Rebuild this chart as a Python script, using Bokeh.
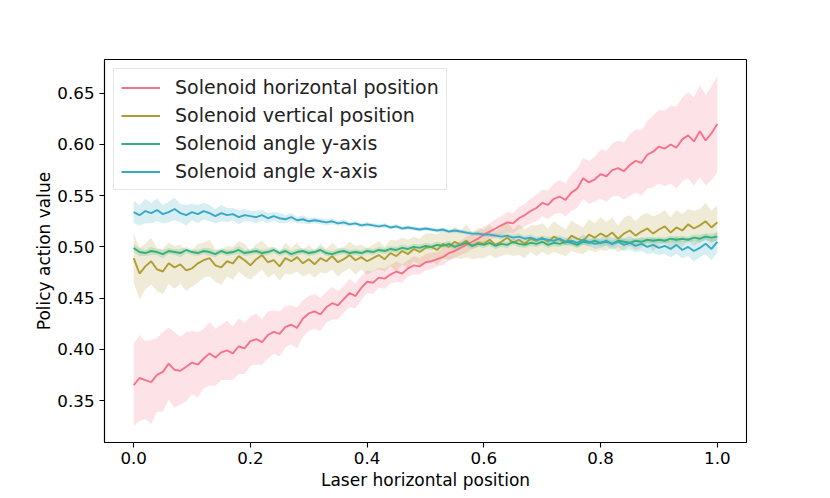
from bokeh.plotting import figure
from bokeh.models import Range1d, FixedTicker, PrintfTickFormatter
from bokeh.embed import file_html
from bokeh.resources import INLINE

# ---------------- data ----------------
x_pos = [round(i * 0.01, 2) for i in range(101)]

series_names = ["Solenoid horizontal position", "Solenoid vertical position",
                "Solenoid angle y-axis", "Solenoid angle x-axis"]
series_colors = ["#f77189", "#ae9d31", "#33b07a", "#38a9c5"]

horiz_mean = [
    0.365, 0.372, 0.370, 0.368, 0.375, 0.378, 0.386, 0.380, 0.379, 0.383, 0.387,
    0.385, 0.391, 0.396, 0.392, 0.397, 0.399, 0.396, 0.403, 0.401, 0.408,
    0.410, 0.407, 0.414, 0.417, 0.415, 0.422, 0.424, 0.421, 0.430, 0.435,
    0.437, 0.434, 0.441, 0.445, 0.443, 0.449, 0.455, 0.452, 0.460, 0.466,
    0.465, 0.470, 0.469, 0.473, 0.476, 0.474, 0.479, 0.482, 0.481, 0.485,
    0.486, 0.488, 0.490, 0.494, 0.496, 0.499, 0.502, 0.505, 0.508, 0.512,
    0.515, 0.518, 0.521, 0.524, 0.523, 0.528, 0.531, 0.535, 0.538, 0.543,
    0.541, 0.547, 0.549, 0.546, 0.553, 0.557, 0.567, 0.563, 0.566, 0.571,
    0.569, 0.575, 0.577, 0.574, 0.580, 0.584, 0.582, 0.590, 0.593, 0.598,
    0.596, 0.600, 0.597, 0.605, 0.609, 0.603, 0.613, 0.604, 0.611, 0.620, 0.607,
]
horiz_ci = [
    0.040, 0.042, 0.038, 0.041, 0.036, 0.039, 0.035, 0.037, 0.033, 0.034, 0.031,
    0.032, 0.029, 0.031, 0.028, 0.027, 0.029, 0.026, 0.027, 0.025, 0.024,
    0.025, 0.022, 0.023, 0.021, 0.022, 0.020, 0.019, 0.020, 0.018, 0.017,
    0.017, 0.016, 0.015, 0.016, 0.014, 0.013, 0.014, 0.012, 0.012, 0.011,
    0.011, 0.010, 0.010, 0.009, 0.010, 0.009, 0.008, 0.009, 0.008, 0.008,
    0.008, 0.007, 0.008, 0.007, 0.007, 0.007, 0.008, 0.007, 0.008, 0.008,
    0.008, 0.009, 0.009, 0.010, 0.010, 0.011, 0.011, 0.012, 0.013, 0.013,
    0.014, 0.015, 0.016, 0.016, 0.018, 0.019, 0.020, 0.021, 0.022, 0.024,
    0.025, 0.026, 0.027, 0.028, 0.030, 0.031, 0.032, 0.033, 0.035, 0.036,
    0.037, 0.038, 0.040, 0.041, 0.042, 0.043, 0.045, 0.044, 0.046, 0.047, 0.048,
]

vert_mean = [
    0.489, 0.474, 0.481, 0.486, 0.478, 0.476, 0.484, 0.480, 0.483, 0.477, 0.479,
    0.484, 0.487, 0.489, 0.482, 0.480, 0.486, 0.484, 0.491, 0.487, 0.482,
    0.488, 0.492, 0.485, 0.487, 0.481, 0.489, 0.486, 0.490, 0.484, 0.488,
    0.483, 0.489, 0.486, 0.491, 0.485, 0.488, 0.492, 0.487, 0.490, 0.486,
    0.489, 0.492, 0.488, 0.494, 0.491, 0.496, 0.493, 0.498, 0.495, 0.499,
    0.500, 0.497, 0.503, 0.500, 0.505, 0.502, 0.506, 0.501, 0.504, 0.503,
    0.507, 0.502, 0.505, 0.509, 0.504, 0.507, 0.503, 0.508, 0.506, 0.509,
    0.505, 0.510, 0.507, 0.504, 0.511, 0.508, 0.506, 0.512, 0.509, 0.513,
    0.510, 0.514, 0.508, 0.513, 0.516, 0.511, 0.515, 0.518, 0.513, 0.517,
    0.520, 0.514, 0.519, 0.516, 0.522, 0.518, 0.521, 0.525, 0.519, 0.524, 0.522,
]
vert_ci = [
    0.024, 0.025, 0.022, 0.023, 0.021, 0.022, 0.020, 0.021, 0.019, 0.020, 0.018,
    0.019, 0.017, 0.018, 0.016, 0.017, 0.015, 0.016, 0.015, 0.016, 0.014,
    0.015, 0.014, 0.015, 0.013, 0.014, 0.015, 0.013, 0.014, 0.013, 0.014,
    0.013, 0.014, 0.012, 0.013, 0.014, 0.012, 0.013, 0.014, 0.012, 0.013,
    0.013, 0.014, 0.012, 0.013, 0.015, 0.013, 0.014, 0.012, 0.013, 0.014,
    0.013, 0.015, 0.014, 0.013, 0.015, 0.014, 0.016, 0.013, 0.015, 0.014,
    0.015, 0.013, 0.014, 0.016, 0.013, 0.015, 0.014, 0.013, 0.015, 0.014,
    0.013, 0.015, 0.014, 0.013, 0.015, 0.014, 0.013, 0.015, 0.014, 0.016,
    0.014, 0.015, 0.013, 0.016, 0.015, 0.014, 0.016, 0.015, 0.017, 0.015,
    0.016, 0.015, 0.017, 0.016, 0.015, 0.017, 0.016, 0.018, 0.016, 0.017, 0.016,
]

angy_mean = [
    0.499, 0.495, 0.494, 0.496, 0.495, 0.493, 0.496, 0.495, 0.494, 0.497, 0.495,
    0.494, 0.496, 0.495, 0.493, 0.496, 0.494, 0.495, 0.497, 0.494, 0.495,
    0.496, 0.494, 0.495, 0.497, 0.494, 0.496, 0.493, 0.495, 0.496, 0.494,
    0.495, 0.497, 0.494, 0.493, 0.495, 0.496, 0.494, 0.495, 0.494, 0.496,
    0.495, 0.497, 0.496, 0.498, 0.497, 0.499, 0.498, 0.500, 0.499, 0.501,
    0.500, 0.502, 0.501, 0.503, 0.500, 0.502, 0.504, 0.501, 0.503, 0.502,
    0.504, 0.501, 0.503, 0.502, 0.505, 0.503, 0.502, 0.504, 0.503, 0.505,
    0.502, 0.504, 0.503, 0.505, 0.504, 0.502, 0.505, 0.504, 0.506, 0.504,
    0.505, 0.503, 0.506, 0.505, 0.504, 0.506, 0.505, 0.507, 0.506, 0.507,
    0.506, 0.508, 0.507, 0.508, 0.507, 0.509, 0.508, 0.510, 0.509, 0.510, 0.509,
]
angy_ci = [
    0.004, 0.004, 0.003, 0.004, 0.003, 0.004, 0.003, 0.003, 0.004, 0.003, 0.003,
    0.003, 0.003, 0.004, 0.003, 0.003, 0.003, 0.003, 0.004, 0.003, 0.003,
    0.003, 0.003, 0.003, 0.003, 0.003, 0.003, 0.003, 0.003, 0.003, 0.003,
    0.003, 0.003, 0.003, 0.003, 0.003, 0.003, 0.003, 0.003, 0.003, 0.003,
    0.003, 0.003, 0.003, 0.003, 0.003, 0.003, 0.003, 0.003, 0.003, 0.003,
    0.003, 0.003, 0.003, 0.003, 0.003, 0.003, 0.003, 0.003, 0.003, 0.003,
    0.003, 0.003, 0.003, 0.003, 0.003, 0.003, 0.003, 0.003, 0.003, 0.003,
    0.003, 0.003, 0.003, 0.003, 0.003, 0.003, 0.003, 0.003, 0.003, 0.003,
    0.003, 0.003, 0.003, 0.003, 0.003, 0.003, 0.003, 0.003, 0.003, 0.003,
    0.003, 0.003, 0.003, 0.003, 0.003, 0.003, 0.004, 0.003, 0.004, 0.004, 0.004,
]

angx_mean = [
    0.534, 0.531, 0.535, 0.533, 0.536, 0.532, 0.534, 0.537, 0.533, 0.531, 0.534,
    0.532, 0.535, 0.533, 0.530, 0.533, 0.531, 0.532, 0.529, 0.531, 0.530,
    0.529, 0.531, 0.528, 0.530, 0.528, 0.527, 0.529, 0.526, 0.527, 0.525,
    0.526, 0.525, 0.524, 0.525, 0.523, 0.524, 0.522, 0.523, 0.521, 0.522,
    0.521, 0.520, 0.521, 0.519, 0.520, 0.518, 0.519, 0.518, 0.517, 0.518,
    0.517, 0.516, 0.517, 0.515, 0.516, 0.515, 0.514, 0.513, 0.513, 0.512,
    0.512, 0.511, 0.510, 0.511, 0.509, 0.510, 0.508, 0.509, 0.507, 0.508,
    0.507, 0.506, 0.508, 0.505, 0.506, 0.504, 0.507, 0.505, 0.503, 0.504,
    0.506, 0.503, 0.505, 0.502, 0.504, 0.501, 0.503, 0.500, 0.502, 0.499,
    0.501, 0.498, 0.502, 0.497, 0.500, 0.496, 0.499, 0.503, 0.498, 0.505, 0.502,
]
angx_ci = [
    0.011, 0.010, 0.012, 0.010, 0.011, 0.009, 0.010, 0.011, 0.009, 0.010, 0.008,
    0.009, 0.008, 0.008, 0.007, 0.008, 0.007, 0.006, 0.007, 0.006, 0.005,
    0.006, 0.005, 0.005, 0.004, 0.005, 0.004, 0.004, 0.003, 0.004, 0.003,
    0.003, 0.003, 0.003, 0.003, 0.002, 0.003, 0.002, 0.002, 0.002, 0.002,
    0.002, 0.002, 0.002, 0.002, 0.002, 0.002, 0.002, 0.002, 0.002, 0.002,
    0.002, 0.002, 0.002, 0.002, 0.002, 0.002, 0.002, 0.002, 0.002, 0.002,
    0.002, 0.002, 0.003, 0.002, 0.003, 0.003, 0.003, 0.003, 0.003, 0.003,
    0.003, 0.004, 0.003, 0.004, 0.004, 0.004, 0.005, 0.004, 0.005, 0.005,
    0.005, 0.006, 0.005, 0.006, 0.007, 0.006, 0.007, 0.007, 0.008, 0.007,
    0.008, 0.008, 0.009, 0.008, 0.009, 0.010, 0.009, 0.010, 0.011, 0.010, 0.010,
]

x_ticks = [0.0, 0.2, 0.4, 0.6, 0.8, 1.0]
y_ticks = [0.35, 0.40, 0.45, 0.50, 0.55, 0.60, 0.65]

means = [horiz_mean, vert_mean, angy_mean, angx_mean]
cis = [horiz_ci, vert_ci, angy_ci, angx_ci]

# ---------------- figure ----------------
FONT = "DejaVu Sans"
TICK_FS = "16.7px"
LABEL_FS = "17px"
LEGEND_FS = "19px"

p = figure(frame_width=642, frame_height=383,
           x_range=Range1d(-0.05, 1.05), y_range=Range1d(0.309, 0.683),
           output_backend="svg", toolbar_location=None,
           min_border_left=104, min_border_top=59, min_border_right=76,
           min_border_bottom=20)
p.background_fill_color = "white"
p.border_fill_color = "white"
p.xgrid.grid_line_color = None
p.ygrid.grid_line_color = None
p.outline_line_color = "black"
p.outline_line_width = 1.1
p.outline_line_alpha = 1.0

# bands first (below all lines)
for m, c, col in zip(means, cis, series_colors):
    lo = [a - b for a, b in zip(m, c)]
    hi = [a + b for a, b in zip(m, c)]
    p.varea(x=x_pos, y1=lo, y2=hi, fill_color=col, fill_alpha=0.2)

for m, col, name in zip(means, series_colors, series_names):
    p.line(x_pos, m, line_color=col, line_width=1.9, legend_label=name)

for ax in (p.xaxis, p.yaxis):
    ax.axis_line_color = "black"
    ax.axis_line_width = 1.1
    ax.major_tick_line_color = "black"
    ax.major_tick_line_width = 1.1
    ax.major_tick_out = 5
    ax.major_tick_in = 0
    ax.minor_tick_line_color = None
    ax.major_label_text_font = FONT
    ax.major_label_text_font_size = TICK_FS
    ax.major_label_text_color = "black"
    ax.axis_label_text_font = FONT
    ax.axis_label_text_font_size = LABEL_FS
    ax.axis_label_text_font_style = "normal"
    ax.axis_label_text_color = "black"

p.xaxis.ticker = FixedTicker(ticks=x_ticks)
p.yaxis.ticker = FixedTicker(ticks=y_ticks)
p.xaxis.formatter = PrintfTickFormatter(format="%.1f")
p.yaxis.formatter = PrintfTickFormatter(format="%.2f")
p.xaxis.axis_label = "Laser horizontal position"
p.yaxis.axis_label = "Policy action value"
p.xaxis.major_label_standoff = 4
p.yaxis.major_label_standoff = 5
p.xaxis.axis_label_standoff = 3
p.yaxis.axis_label_standoff = 0

lg = p.legend[0]
lg.location = "top_left"
lg.margin = 9
lg.padding = 7
lg.spacing = 6
lg.glyph_width = 39
lg.glyph_height = 21
lg.label_height = 21
lg.label_standoff = 15
lg.label_text_font = FONT
lg.label_text_font_size = LEGEND_FS
lg.label_text_color = "#222222"
lg.border_line_color = "#cccccc"
lg.border_line_width = 1
lg.background_fill_alpha = 0.8

open("out.html", "w").write(file_html(p, INLINE))
